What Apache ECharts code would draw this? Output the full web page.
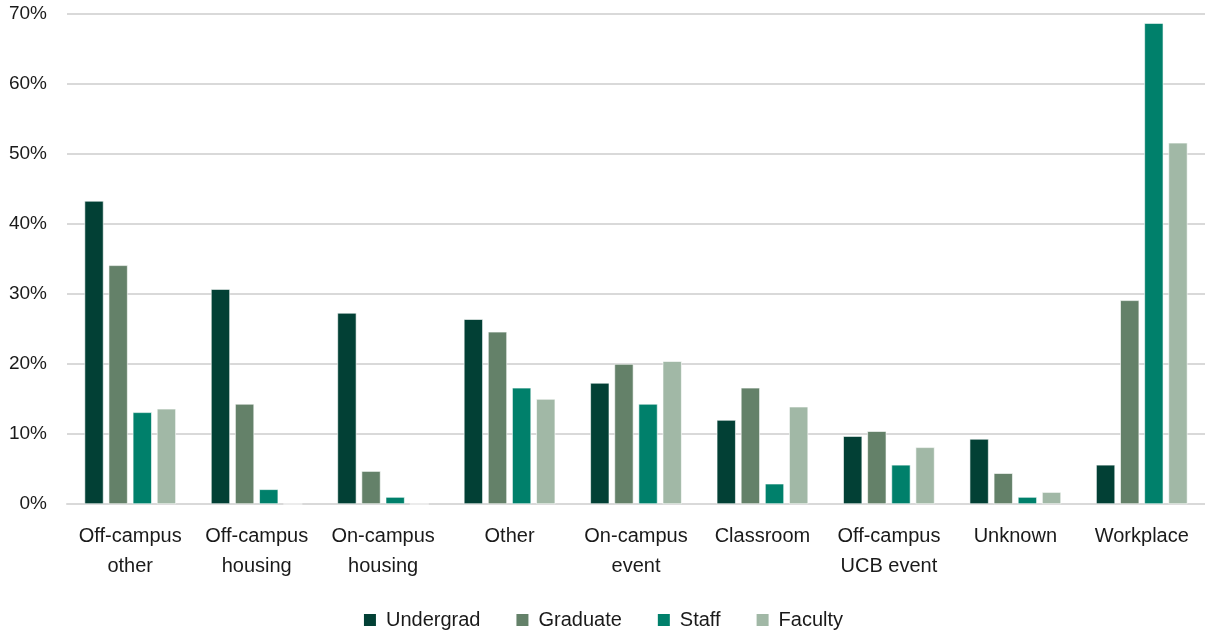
<!DOCTYPE html>
<html>
<head>
<meta charset="utf-8">
<script src="https://cdn.jsdelivr.net/npm/echarts@6/dist/echarts.min.js"></script>
<style>
  html, body { margin: 0; padding: 0; background: #fff; }
  #chart { width: 1205px; height: 630px; }
</style>
</head>
<body>
<div id="chart"></div>
<script>
// categories (x axis)
const categories = [
    'Off-campus\nother',
    'Off-campus\nhousing',
    'On-campus\nhousing',
    'Other',
    'On-campus\nevent',
    'Classroom',
    'Off-campus\nUCB event',
    'Unknown',
    'Workplace',
];
// percent values per group
const undergrad = [43.3, 30.7, 27.3, 26.4, 17.3, 12.0, 9.7, 9.3, 5.6];
const graduate = [34.1, 14.3, 4.7, 24.6, 20.0, 16.6, 10.4, 4.4, 29.1];
const staff = [13.1, 2.1, 1.0, 16.6, 14.3, 2.9, 5.6, 1.0, 68.7];
const faculty = [13.6, 0, 0, 15.0, 20.4, 13.9, 8.1, 1.7, 51.6];

const seriesNames = ['Undergrad', 'Graduate', 'Staff', 'Faculty'];
const seriesData = [undergrad, graduate, staff, faculty];

let chartDom = document.getElementById('chart');
let myChart = echarts.init(chartDom);
const font = '"Liberation Sans", "DejaVu Sans", sans-serif';

myChart.setOption({
    color: ['#024035', '#648169', '#00806B', '#A1B8A6'],
    animation: false,
    textStyle: { fontFamily: font },
    legend: {
        top: 605,
        left: 'center',
        itemWidth: 14,
        itemHeight: 14,
        itemGap: 34,
        icon: 'rect',
        textStyle: { fontSize: 20, color: '#1a1a1a', fontFamily: font, padding: [0, 0, 0, 4] },
        data: seriesNames,
    },
    grid: {
        top: 14,
        left: 67,
        right: 0,
        bottom: 126,
    },
    xAxis: {
        type: 'category',
        data: categories,
        axisTick: { show: false },
        axisLine: { lineStyle: { color: '#d9d9d9', width: 2 } },
        axisLabel: {
            color: '#1a1a1a',
            fontSize: 20,
            lineHeight: 30,
            margin: 17,
            interval: 0,
            fontFamily: font,
        },
    },
    yAxis: {
        type: 'value',
        min: 0,
        max: 70,
        interval: 10,
        axisLine: { show: false },
        axisTick: { show: false },
        axisLabel: {
            color: '#1a1a1a',
            fontSize: 19,
            margin: 20,
            formatter: '{value}%',
            fontFamily: font,
        },
        splitLine: { lineStyle: { color: '#d9d9d9', width: 2 } },
    },
    series: seriesNames.map((name, i) => ({
        name: name,
        type: 'bar',
        data: seriesData[i],
        barWidth: 19,
        barGap: '27%',
        itemStyle: { borderColor: '#ffffff', borderWidth: 0.6 },
    })),
});
</script>
</body>
</html>
